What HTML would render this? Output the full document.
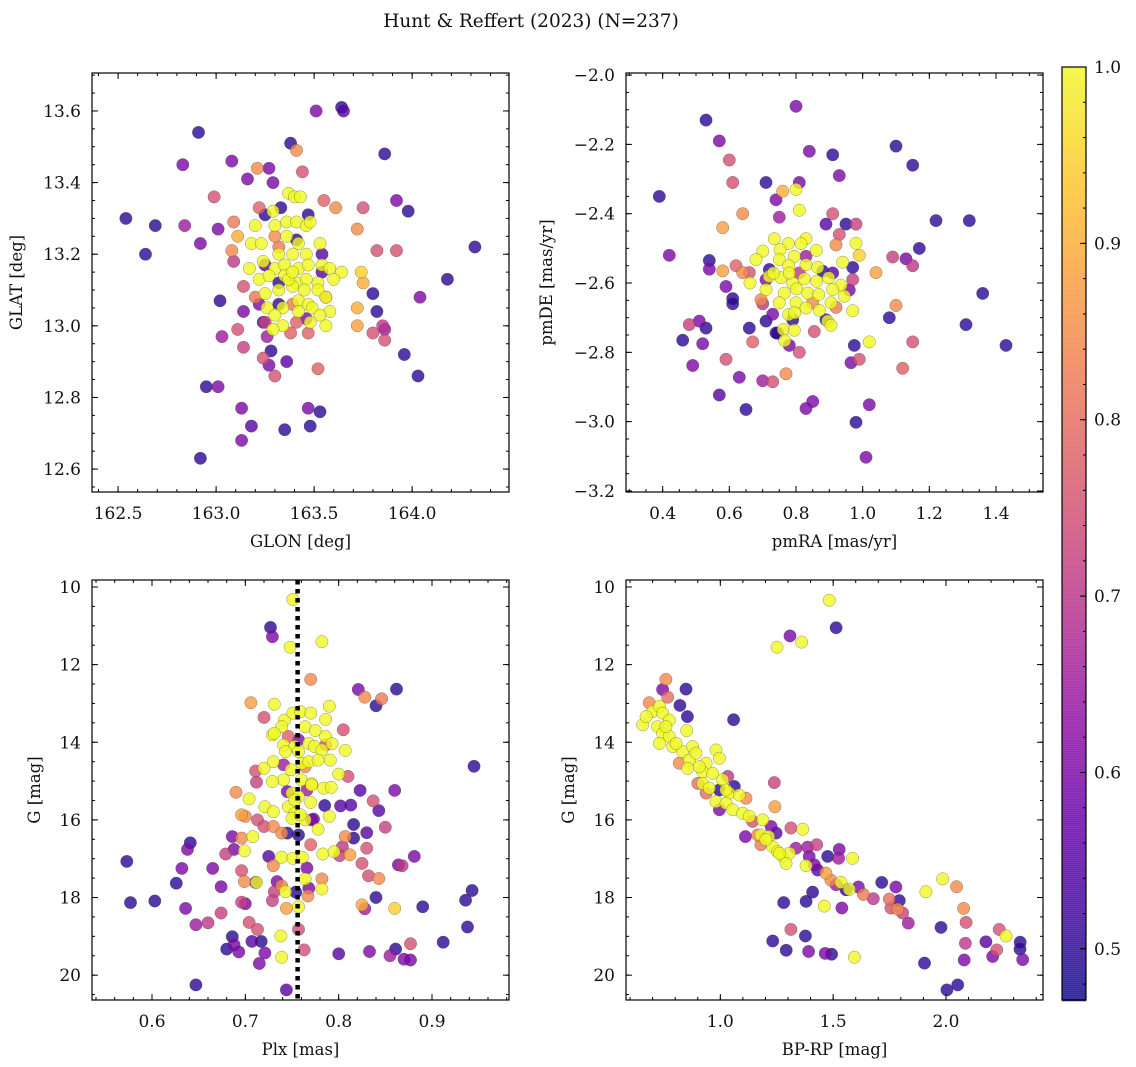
<!DOCTYPE html>
<html><head><meta charset="utf-8"><style>
html,body{margin:0;padding:0;background:#fff;}
svg{display:block;font-family:"DejaVu Serif","Liberation Serif",serif;}
</style></head><body>
<svg id="fig" width="1136" height="1067" viewBox="0 0 1136 1067">
<text x="531" y="27" font-size="18.5" text-anchor="middle" fill="#111">Hunt &amp; Reffert (2023) (N=237)</text>
</svg>
<script>
// ---------- Panel 1: GLON / GLAT ----------
const p1Lon=[163.51,163.64,163.65,162.91,163.38,163.41,163.86,162.83,163.08,163.21,163.27,163.16,163.29,163.44,162.99,163.37,163.40,163.43,163.55,163.61,163.75,163.92,163.98,162.54,162.69,162.84,163.01,163.09,163.22,163.33,163.47,163.72,162.64,162.92,163.08,163.11,163.82,163.92,164.32,163.09,164.18,163.80,164.04,163.02,163.74,163.75,163.14,163.20,163.14,163.82,163.72,163.72,163.11,163.03,163.24,163.80,163.85,163.86,163.86,163.96,164.03,163.14,163.26,163.28,163.24,163.27,163.36,163.30,163.52,163.38,163.41,163.47,162.95,163.01,163.13,163.47,163.53,163.18,163.35,163.48,163.13,162.92,
163.25,163.30,163.32,163.41,163.54,163.32,163.54,163.32,163.39,163.22,163.25,163.46,163.56,163.25,
163.29,163.20,163.30,163.36,163.41,163.46,163.48,163.18,163.23,163.36,163.42,163.46,163.53,163.32,163.39,163.24,163.17,163.30,163.35,163.42,163.47,163.54,163.58,163.64,163.22,163.27,163.35,163.41,163.46,163.52,163.60,163.25,163.32,163.39,163.45,163.52,163.42,163.47,163.56,163.26,163.34,163.49,163.58,163.53,163.30,163.34,163.48,163.56,163.29,163.42,163.37,163.39];
const p1Lat=[13.60,13.61,13.60,13.54,13.51,13.49,13.48,13.45,13.46,13.44,13.44,13.41,13.40,13.43,13.36,13.37,13.36,13.36,13.35,13.33,13.33,13.35,13.32,13.30,13.28,13.28,13.27,13.29,13.33,13.33,13.31,13.27,13.20,13.23,13.21,13.25,13.21,13.21,13.22,13.18,13.13,13.09,13.08,13.07,13.15,13.12,13.11,13.08,13.04,13.04,13.05,13.00,12.99,12.97,13.01,12.98,13.00,12.99,12.96,12.92,12.86,12.94,12.97,12.93,12.91,12.89,12.90,12.86,12.88,12.98,13.01,12.98,12.83,12.83,12.77,12.77,12.76,12.72,12.71,12.72,12.68,12.63,
13.31,13.25,13.22,13.24,13.20,13.12,13.15,13.06,13.06,13.06,13.01,13.02,13.08,13.17,
13.32,13.28,13.28,13.29,13.29,13.28,13.29,13.23,13.23,13.25,13.23,13.20,13.23,13.20,13.20,13.18,13.16,13.16,13.17,13.16,13.17,13.17,13.16,13.15,13.13,13.14,13.14,13.12,13.13,13.12,13.13,13.09,13.10,13.11,13.10,13.10,13.07,13.06,13.08,13.05,13.05,13.05,13.04,13.03,13.03,13.00,13.01,13.00,12.99,13.04,13.13,13.15];
const p1Prob=[0.6,0.5,0.55,0.5,0.5,0.85,0.5,0.6,0.6,0.85,0.6,0.6,0.6,0.75,0.75,1,1,1,0.78,0.85,0.75,0.6,0.5,0.5,0.5,0.65,0.6,0.82,0.78,0.5,0.5,0.85,0.5,0.6,0.85,0.9,0.75,0.75,0.5,0.7,0.5,0.5,0.6,0.5,0.95,0.9,0.75,0.82,0.6,0.5,0.9,0.88,0.75,0.65,0.55,0.75,0.7,0.65,0.75,0.5,0.5,0.72,0.65,0.5,0.75,0.6,0.55,0.75,0.78,0.78,0.78,0.78,0.5,0.6,0.6,0.6,0.5,0.55,0.5,0.5,0.6,0.5,
0.5,0.85,0.82,0.5,0.55,0.5,0.55,0.5,0.82,0.6,0.72,0.6,0.85,0.55,
1,1,1,1,1,1,1,1,1,1,1,1,1,1,1,1,1,1,1,1,1,1,1,1,1,1,1,1,1,1,1,1,1,1,1,1,1,1,1,1,1,1,1,1,1,1,1,1,1,1,1,1];

// ---------- Panel 2: pmRA / pmDE ----------
const p2Ra=[0.80,0.53,0.57,0.60,0.84,0.91,0.93,1.10,1.15,0.61,0.71,0.81,0.39,0.74,0.76,0.80,0.81,0.64,0.58,0.75,0.91,0.89,0.95,0.98,0.93,0.92,1.22,1.32,1.17,0.98,0.99,0.42,0.54,0.54,0.58,0.62,0.64,0.66,1.09,1.13,1.15,1.04,0.94,0.97,0.97,0.96,0.59,0.61,0.61,1.36,0.70,0.73,0.71,1.10,0.97,0.92,1.08,1.31,0.48,0.51,0.53,0.66,0.46,0.52,0.855,0.745,0.67,0.78,0.81,1.02,0.975,1.15,1.43,0.59,0.965,0.99,0.49,1.12,0.63,0.70,0.73,0.77,0.57,0.85,0.83,0.65,1.02,0.98,1.01,
0.72,0.83,0.88,0.85,0.695,0.79,0.89,0.74,0.71,0.91,0.81,
0.735,0.777,0.83,0.815,0.861,0.70,0.752,0.68,0.75,0.795,0.83,0.865,0.778,0.72,0.755,0.79,0.825,0.862,0.898,0.935,0.662,0.71,0.765,0.802,0.835,0.868,0.91,0.945,0.75,0.80,0.83,0.87,0.905,0.778,0.796,0.895,0.905,0.762,0.795,0.766,0.732,0.78];
const p2De=[-2.09,-2.13,-2.19,-2.245,-2.22,-2.23,-2.29,-2.205,-2.26,-2.31,-2.31,-2.31,-2.35,-2.36,-2.335,-2.33,-2.39,-2.40,-2.44,-2.41,-2.40,-2.43,-2.43,-2.43,-2.46,-2.49,-2.42,-2.42,-2.50,-2.485,-2.52,-2.52,-2.535,-2.56,-2.565,-2.55,-2.57,-2.57,-2.525,-2.53,-2.55,-2.57,-2.54,-2.555,-2.59,-2.62,-2.61,-2.645,-2.66,-2.63,-2.66,-2.69,-2.71,-2.665,-2.68,-2.67,-2.70,-2.72,-2.72,-2.71,-2.73,-2.73,-2.765,-2.775,-2.74,-2.745,-2.77,-2.78,-2.80,-2.77,-2.78,-2.77,-2.78,-2.82,-2.83,-2.82,-2.838,-2.846,-2.872,-2.882,-2.885,-2.862,-2.923,-2.942,-2.962,-2.965,-2.951,-3.002,-3.103,
-2.561,-2.523,-2.566,-2.657,-2.648,-2.706,-2.706,-2.744,-2.59,-2.571,-2.571,
-2.472,-2.486,-2.472,-2.486,-2.506,-2.508,-2.504,-2.532,-2.532,-2.523,-2.547,-2.555,-2.55,-2.581,-2.585,-2.60,-2.588,-2.595,-2.585,-2.606,-2.60,-2.619,-2.629,-2.617,-2.629,-2.633,-2.619,-2.638,-2.657,-2.657,-2.672,-2.679,-2.657,-2.691,-2.686,-2.71,-2.722,-2.734,-2.736,-2.766,-2.571,-2.571];
const p2Prob=[0.6,0.5,0.6,0.75,0.6,0.5,0.6,0.5,0.5,0.75,0.5,0.6,0.5,0.6,0.9,1,1,0.85,0.88,0.65,0.75,0.55,0.5,0.72,0.75,0.85,0.5,0.5,0.5,1,0.95,0.6,0.5,0.6,0.88,0.78,0.85,0.75,0.72,0.6,0.7,0.88,1,0.5,0.72,0.6,0.6,0.5,0.5,0.5,0.7,0.6,0.5,0.85,1,0.82,0.5,0.5,0.72,0.6,0.5,0.5,0.5,0.6,0.75,0.5,0.78,0.6,0.75,1,0.5,0.75,0.5,0.75,0.6,0.75,0.6,0.78,0.6,0.65,0.75,0.85,0.55,0.6,0.6,0.5,0.6,0.5,0.6,
0.5,0.65,0.5,0.85,0.85,0.5,0.5,0.5,0.6,0.55,0.7,
1,1,1,1,1,1,1,1,1,1,1,1,1,1,1,1,1,1,1,1,1,1,1,1,1,1,1,1,1,1,1,1,1,1,1,1,1,1,1,1,1,1];

// ---------- Panel 3: Plx / G ----------
const p3Plx=[0.751,0.727,0.729,0.748,0.782,0.770,0.821,0.828,0.846,0.840,0.862,0.706,0.731,0.790,0.720,0.945,0.805,0.807,0.800,0.810,0.711,0.712,0.690,0.704,0.823,0.860,0.837,0.785,0.802,0.813,0.843,0.696,0.700,0.713,0.790,0.773,0.816,0.830,0.850,0.778,0.686,0.696,0.708,0.641,0.638,0.679,0.688,0.699,0.770,0.807,0.816,0.804,0.830,0.812,0.801,0.783,0.795,0.881,0.573,0.632,0.665,0.725,0.739,0.730,0.751,0.761,0.825,0.868,0.864,0.766,0.696,0.699,0.711,0.712,0.832,0.843,0.764,0.768,0.782,0.782,0.626,0.674,0.734,0.739,0.743,0.731,0.754,0.767,0.840,0.943,0.936,0.577,0.603,0.636,0.696,0.700,0.729,0.744,0.757,0.825,0.828,0.860,0.890,0.674,0.647,0.660,0.704,0.713,0.757,0.938,0.686,0.738,0.707,0.717,0.680,0.688,0.693,0.721,0.715,0.739,0.763,0.800,0.833,0.855,0.861,0.870,0.877,0.877,0.912,0.647,0.744,
0.742,0.739,0.751,0.759,0.770,0.786,0.729,0.731,0.764,0.775,0.786,0.741,0.753,0.768,0.774,0.793,0.743,0.757,0.782,0.761,0.768,0.778,0.791,0.720,0.730,0.749,0.741,0.729,0.760,0.771,0.784,0.792,0.750,0.757,0.770,0.746,0.753,0.764,0.721,0.730,0.750,0.759,0.771,0.753,
0.746,0.757,0.786,0.764,0.741,0.745,0.766,0.771,0.757,0.745,0.730,0.739,0.720];
const p3G=[10.32,11.04,11.28,11.55,11.41,12.38,12.64,12.84,12.88,13.06,12.63,12.98,13.02,13.07,13.36,14.62,13.68,14.21,14.82,14.88,14.74,15.03,15.29,15.46,15.24,15.24,15.51,15.63,15.64,15.62,15.76,15.87,15.91,16.00,15.91,15.98,16.12,16.33,16.19,16.24,16.43,16.47,16.43,16.59,16.76,16.88,16.76,16.80,16.64,16.43,16.47,16.69,16.73,16.90,16.92,16.88,16.82,16.94,17.07,17.25,17.25,16.94,16.96,17.18,16.99,16.96,17.12,17.18,17.16,17.24,17.31,17.59,17.61,17.61,17.44,17.51,17.52,17.76,17.52,17.78,17.63,17.72,17.59,17.70,17.85,17.85,17.86,17.96,18.00,17.82,18.07,18.13,18.09,18.28,18.12,18.16,18.08,18.28,18.24,18.19,18.29,18.28,18.24,18.40,18.70,18.65,18.64,18.82,18.82,18.76,19.01,18.99,19.13,19.13,19.33,19.22,19.40,19.43,19.70,19.54,19.35,19.45,19.39,19.50,19.33,19.59,19.61,19.19,19.15,20.25,20.38,
13.43,13.60,13.25,13.21,13.25,13.41,13.81,13.77,13.60,13.70,13.85,14.07,14.11,14.03,14.11,14.04,14.24,14.24,14.20,14.54,14.50,14.46,14.46,14.67,14.50,14.71,14.97,15.01,14.97,15.07,15.18,15.16,15.31,15.40,15.55,15.66,15.83,16.00,15.66,15.79,15.96,15.87,15.10,15.49,
13.85,13.94,14.07,14.63,14.58,15.27,15.23,16.00,16.39,16.34,16.17,16.34,16.17];
const p3Prob=[1,0.5,0.6,1,1,0.85,0.6,0.85,0.82,0.5,0.5,0.88,1,1,0.75,0.5,0.75,1,1,0.75,0.75,0.72,0.85,1,0.55,0.6,0.75,0.5,0.55,0.55,0.55,0.88,0.85,0.75,1,0.6,0.5,0.55,0.72,1,0.6,0.85,1,0.5,0.6,0.72,0.6,1,0.78,0.85,0.5,0.7,0.75,0.88,0.72,1,1,0.6,0.5,0.6,0.6,0.55,1,0.85,1,1,0.75,0.7,0.6,0.6,0.75,0.85,0.55,1,0.75,0.85,1,0.6,0.85,1,0.5,0.6,0.6,0.85,1,0.72,0.5,0.85,0.5,0.5,0.5,0.5,0.5,0.6,0.72,0.6,0.72,0.88,1,0.9,0.65,0.95,0.5,0.72,0.65,0.7,0.75,0.75,0.75,0.5,0.5,1,0.55,0.5,0.5,0.6,0.6,0.6,0.6,1,0.75,0.55,0.6,0.65,0.5,0.6,0.6,0.75,0.5,0.5,0.55,
1,1,1,1,1,1,1,1,1,1,1,1,1,1,1,1,1,1,1,1,1,1,1,1,1,1,1,1,1,1,1,1,1,1,1,1,1,1,1,1,1,1,1,1,
0.78,0.6,0.75,0.85,0.65,0.6,0.65,0.6,0.5,0.5,0.85,0.85,0.75];

// ---------- Panel 4: BP-RP / G ----------
const p4Col=[1.483,1.513,1.309,1.251,1.360,0.759,0.744,0.848,0.767,0.685,0.821,0.854,1.059,0.656,0.851,
0.700,0.730,0.744,0.774,0.722,0.744,0.774,0.730,0.789,0.833,0.877,0.863,0.892,0.937,0.981,0.996,0.855,0.922,0.966,1.010,0.922,0.951,0.981,1.040,1.084,1.025,1.055,1.099,1.129,1.188,1.180,1.214,1.232,1.254,1.276,1.306,1.291,1.365,1.380,1.586,1.535,1.572,1.461,1.594,1.911,1.985,2.266,0.671,0.759,0.804,0.907,1.025,1.202,1.262,
0.818,0.900,0.937,1.033,1.062,0.996,0.996,1.114,1.143,1.225,1.247,1.239,1.242,1.111,1.165,1.180,1.313,1.335,1.387,1.427,1.476,1.527,1.524,1.394,1.417,1.431,1.468,1.490,1.513,1.557,1.612,1.634,1.678,1.715,1.778,1.793,1.749,1.756,1.786,1.808,1.833,2.047,2.078,2.089,1.978,2.086,2.177,2.236,2.225,2.207,2.329,2.328,2.340,2.081,1.905,2.052,2.004,1.409,1.380,1.281,1.539,1.313,1.377,1.232,1.292,1.391,1.465,1.493];
const p4G=[10.34,11.05,11.26,11.55,11.42,12.38,12.64,12.63,12.84,12.98,13.05,13.34,13.42,13.55,13.70,
13.21,13.08,13.25,13.43,13.60,13.77,13.85,14.03,14.11,14.24,14.11,14.46,14.28,14.54,14.20,14.41,14.67,14.76,14.80,14.97,15.06,15.18,15.53,15.31,15.36,15.57,15.74,15.83,15.91,16.00,16.39,16.43,16.69,16.82,16.94,16.86,17.12,16.24,17.18,16.99,17.61,17.79,18.22,19.54,17.85,17.52,18.99,13.34,13.60,14.03,14.63,15.23,16.51,16.86,
14.54,15.06,15.31,14.88,15.14,15.23,15.74,15.44,16.04,16.17,16.34,15.04,15.66,16.43,16.39,16.64,16.21,16.73,16.70,16.64,16.94,16.76,16.99,16.94,17.16,17.29,17.37,17.55,17.67,17.80,17.73,17.92,18.03,17.61,17.73,18.08,18.04,18.27,18.30,18.40,18.66,17.72,18.28,18.64,18.77,19.18,19.14,18.82,19.35,19.52,19.15,19.33,19.60,19.61,19.69,20.25,20.38,17.86,18.10,18.13,18.27,18.82,18.99,19.12,19.36,19.39,19.44,19.46];
const p4Prob=[1,0.5,0.6,1,1,0.85,0.6,0.5,0.8,0.85,0.5,0.5,0.5,1,1,
1,1,1,1,1,1,1,1,1,1,1,1,1,1,1,1,1,1,1,1,1,1,1,1,1,1,1,1,1,1,1,1,1,1,1,1,1,1,1,1,1,1,1,1,1,1,1,1,1,1,1,1,1,1,
0.85,0.8,0.8,0.7,0.5,0.5,0.6,0.85,0.75,0.6,0.55,0.72,0.88,0.6,0.85,0.82,0.75,0.65,0.65,0.72,0.5,0.6,0.65,0.6,0.6,0.55,0.88,0.85,0.65,0.5,0.6,0.82,0.7,0.5,0.6,0.5,0.8,0.75,0.85,0.72,0.65,0.85,0.85,0.75,0.5,0.7,0.55,0.75,0.75,0.6,0.5,0.5,0.6,0.6,0.5,0.5,0.5,0.5,0.5,0.5,0.6,0.75,0.5,0.5,0.5,0.6,0.6,0.5];

// ---------- Colorbar ----------
const cbTicks=[0.5,0.6,0.7,0.8,0.9,1.0];
const plxRef=0.756;

const NS='http://www.w3.org/2000/svg';
const svg=document.getElementById('fig');
function mk(tag,attrs,parent){const e=document.createElementNS(NS,tag);for(const k in attrs)e.setAttribute(k,attrs[k]);(parent||svg).appendChild(e);return e;}
const stops=['#0d0887','#41049d','#6a00a8','#8f0da4','#b12a90','#cc4778','#e16462','#f2844b','#fca636','#fcce25','#f0f921'];
function hx(h){return [parseInt(h.substr(1,2),16),parseInt(h.substr(3,2),16),parseInt(h.substr(5,2),16)];}
const VMIN=0.471,VMAX=1.0;
function plasma(t){t=Math.max(0,Math.min(1,t));const f=t*10,i=Math.min(9,Math.floor(f)),r=f-i;const a=hx(stops[i]),b=hx(stops[i+1]);return 'rgb('+a.map((v,k)=>Math.round(v+(b[k]-v)*r)).join(',')+')';}
function cmap(p){return plasma((p-VMIN)/(VMAX-VMIN));}
function fmt(v,d){let s=v.toFixed(d);if(v<0)s='\u2212'+s.substr(1);return s;}

function panel(cfg){
  const {x0,x1,y0,y1,xd,yd,name}=cfg;
  const g=mk('g',{});
  
  
  const sx=v=>x0+(v-xd[0])/(xd[1]-xd[0])*(x1-x0);
  const sy=v=>y0+(v-yd[0])/(yd[1]-yd[0])*(y1-y0);
  const idx=cfg.xs.map((_,i)=>i).sort((a,b)=>cfg.ps[a]-cfg.ps[b]);
  const pg=mk('g',{},g);
  
  
  idx.forEach(i=>{
    const c=mk('circle',{cx:sx(cfg.xs[i]).toFixed(1),cy:sy(cfg.ys[i]).toFixed(1),r:6.2,fill:cmap(cfg.ps[i]),'fill-opacity':0.8,stroke:'rgba(60,60,60,0.55)','stroke-width':0.5},pg);
    
    
  });
  if(cfg.extra) cfg.extra(g,sx,sy);
  const fr=mk('rect',{x:x0,y:y0,width:x1-x0,height:y1-y0,fill:'none',stroke:'#000','stroke-width':1.2},g);
  
  
  const tk=mk('g',{stroke:'#000','stroke-width':1},g);
  function ticks(dom,step,cb){const lo=Math.min(dom[0],dom[1]),hi=Math.max(dom[0],dom[1]);for(let k=Math.ceil(lo/step-1e-6);k*step<=hi+1e-9;k++)cb(+(k*step).toFixed(6));}
  ticks(xd,cfg.xminor,v=>{const X=sx(v);mk('line',{x1:X,x2:X,y1:y1,y2:y1-3},tk);mk('line',{x1:X,x2:X,y1:y0,y2:y0+3},tk);});
  ticks(yd,cfg.yminor,v=>{const Y=sy(v);mk('line',{x1:x0,x2:x0+3,y1:Y,y2:Y},tk);mk('line',{x1:x1,x2:x1-3,y1:Y,y2:Y},tk);});
  cfg.xticks.forEach(v=>{const X=sx(v);mk('line',{x1:X,x2:X,y1:y1,y2:y1-6},tk);mk('line',{x1:X,x2:X,y1:y0,y2:y0+6},tk);
    const t=mk('text',{x:X,y:y1+27,'font-size':17,'text-anchor':'middle',fill:'#111'},g);t.textContent=fmt(v,cfg.xdec);
    });
  cfg.yticks.forEach(v=>{const Y=sy(v);mk('line',{x1:x0,x2:x0+6,y1:Y,y2:Y},tk);mk('line',{x1:x1,x2:x1-6,y1:Y,y2:Y},tk);
    const t=mk('text',{x:x0-11,y:Y+6,'font-size':17,'text-anchor':'end',fill:'#111'},g);t.textContent=fmt(v,cfg.ydec);
    });
  const xl=mk('text',{x:(x0+x1)/2,y:y1+55,'font-size':16.5,'text-anchor':'middle',fill:'#111'},g);xl.textContent=cfg.xlabel;
  
  const yl=mk('text',{x:cfg.ylx,y:(y0+y1)/2,'font-size':16.5,'text-anchor':'middle',fill:'#111',transform:'rotate(-90 '+cfg.ylx+' '+(y0+y1)/2+')'},g);yl.textContent=cfg.ylabel;
  
}

panel({name:'glon-glat-panel',x0:92,x1:509,y0:73,y1:492,xd:[162.367,164.494],yd:[13.706,12.536],xs:p1Lon,ys:p1Lat,ps:p1Prob,
  xticks:[162.5,163.0,163.5,164.0],xminor:0.1,xdec:1,yticks:[12.6,12.8,13.0,13.2,13.4,13.6],yminor:0.05,ydec:1,xlabel:'GLON [deg]',ylabel:'GLAT [deg]',ylx:22});
panel({name:'proper-motion-panel',x0:626,x1:1043,y0:73,y1:492,xd:[0.29,1.541],yd:[-1.994,-3.203],xs:p2Ra,ys:p2De,ps:p2Prob,
  xticks:[0.4,0.6,0.8,1.0,1.2,1.4],xminor:0.05,xdec:1,yticks:[-3.2,-3.0,-2.8,-2.6,-2.4,-2.2,-2.0],yminor:0.05,ydec:1,xlabel:'pmRA [mas/yr]',ylabel:'pmDE [mas/yr]',ylx:552});
panel({name:'parallax-panel',x0:92,x1:509,y0:580,y1:1000,xd:[0.5357,0.9825],yd:[9.82,20.64],xs:p3Plx,ys:p3G,ps:p3Prob,
  xticks:[0.6,0.7,0.8,0.9],xminor:0.02,xdec:1,yticks:[10,12,14,16,18,20],yminor:0.5,ydec:0,xlabel:'Plx [mas]',ylabel:'G [mag]',ylx:40,
  extra:(g,sx,sy)=>{const X=sx(plxRef);const l=mk('line',{x1:X,x2:X,y1:580,y2:1000,stroke:'#000','stroke-width':4.5,'stroke-dasharray':'4.5 4.5'},g);
    }});
panel({name:'cmd-panel',x0:626,x1:1043,y0:580,y1:1000,xd:[0.582,2.430],yd:[9.82,20.64],xs:p4Col,ys:p4G,ps:p4Prob,
  xticks:[1.0,1.5,2.0],xminor:0.1,xdec:1,yticks:[10,12,14,16,18,20],yminor:0.5,ydec:0,xlabel:'BP-RP [mag]',ylabel:'G [mag]',ylx:574});

(function(){
  const cx0=1062,cx1=1086,cy0=67,cy1=1000;
  const g=mk('g',{});
  
  
  const sy=v=>cy1-(v-VMIN)/(VMAX-VMIN)*(cy1-cy0);
  for(let y=cy0;y<cy1;y+=2){const v=VMIN+(cy1-y-1)/(cy1-cy0)*(VMAX-VMIN);mk('rect',{x:cx0,y:y,width:cx1-cx0,height:2.3,fill:cmap(v),'fill-opacity':0.8},g);}
  mk('rect',{x:cx0,y:cy0,width:cx1-cx0,height:cy1-cy0,fill:'none',stroke:'#000','stroke-width':1.2},g);
  for(let v=0.48;v<=1.0001;v+=0.02){const Y=sy(v);mk('line',{x1:cx1,x2:cx1-3,y1:Y,y2:Y,stroke:'#000'},g);}
  cbTicks.forEach(v=>{const Y=sy(v);mk('line',{x1:cx1,x2:cx1-6,y1:Y,y2:Y,stroke:'#000'},g);
    const t=mk('text',{x:cx1+8,y:Y+6,'font-size':17,fill:'#111'},g);t.textContent=v.toFixed(1);
    });
})();
</script>
</body></html>
